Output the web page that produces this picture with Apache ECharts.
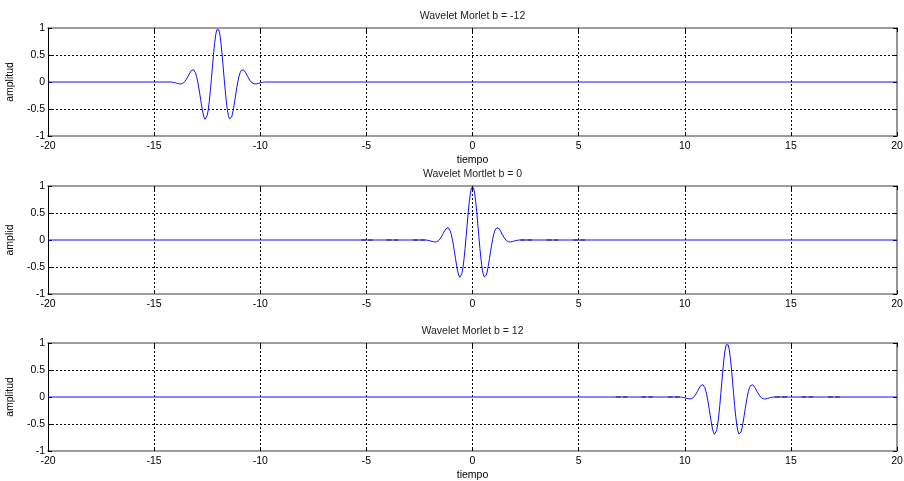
<!DOCTYPE html>
<html>
<head>
<meta charset="utf-8">
<script src="https://cdn.jsdelivr.net/npm/echarts@6.0.0/dist/echarts.min.js"></script>
<style>
  html, body { margin: 0; padding: 0; background: #fff; }
  #chart { width: 904px; height: 481px; }
</style>
</head>
<body>
<div id="chart"></div>
<script>
// Three panels: a Morlet pulse shifted to b = -12, 0 and 12 on the time axis.
const panelTitles = ['Wavelet Morlet b = -12', 'Wavelet Mortlet b = 0', 'Wavelet Morlet b = 12'];
const panelShifts = [-12, 0, 12];
const yAxisNames = ['amplitud', 'amplid', 'amplitud'];
const xAxisNames = ['tiempo', '', 'tiempo'];

const xTickValues = [-20, -15, -10, -5, 0, 5, 10, 15, 20];
const yTickValues = [-1, -0.5, 0, 0.5, 1];

// time relative to the pulse centre
const pulseOffsets = [
  -2.2, -2.15, -2.1, -2.05, -2.0, -1.95, -1.9, -1.85, -1.8, -1.75, -1.7, -1.65, -1.6, -1.55, -1.5,
  -1.45, -1.4, -1.35, -1.3, -1.25, -1.2, -1.15, -1.1, -1.05, -1.0, -0.95, -0.9, -0.85, -0.8, -0.75,
  -0.7, -0.65, -0.6, -0.55, -0.5, -0.45, -0.4, -0.35, -0.3, -0.25, -0.2, -0.15, -0.1, -0.05, 0,
  0.05, 0.1, 0.15, 0.2, 0.25, 0.3, 0.35, 0.4, 0.45, 0.5, 0.55, 0.6, 0.65, 0.7, 0.75,
  0.8, 0.85, 0.9, 0.95, 1.0, 1.05, 1.1, 1.15, 1.2, 1.25, 1.3, 1.35, 1.4, 1.45, 1.5,
  1.55, 1.6, 1.65, 1.7, 1.75, 1.8, 1.85, 1.9, 1.95, 2.0, 2.05, 2.1, 2.15, 2.2
];
const pulseAmplitude = [
  0.000, -0.002, -0.006, -0.010, -0.015, -0.021, -0.027, -0.032, -0.036, -0.037, -0.033, -0.025, -0.011, 0.009, 0.037,
  0.069, 0.106, 0.144, 0.180, 0.210, 0.227, 0.230, 0.211, 0.170, 0.104, 0.015, -0.094, -0.217, -0.345, -0.468,
  -0.574, -0.652, -0.691, -0.683, -0.624, -0.513, -0.355, -0.158, 0.065, 0.296, 0.519, 0.715, 0.869, 0.966, 1.000,
  0.966, 0.869, 0.715, 0.519, 0.296, 0.065, -0.158, -0.355, -0.513, -0.624, -0.683, -0.691, -0.652, -0.574, -0.468,
  -0.345, -0.217, -0.094, 0.015, 0.104, 0.170, 0.211, 0.230, 0.227, 0.210, 0.180, 0.144, 0.106, 0.069, 0.037,
  0.009, -0.011, -0.025, -0.033, -0.037, -0.036, -0.032, -0.027, -0.021, -0.015, -0.010, -0.006, -0.002, 0.000
];

// faint ripples far from the centre (panels b = 0 and b = 12 only): start, end, level
const rippleStarts = [-5.25, -4.05, -2.8, 2.25, 3.5, 4.75];
const rippleEnds = [-4.7, -3.5, -2.2, 2.85, 4.05, 5.3];
const rippleLevel = [0, 0, 0, 0, 0, 0];
const panelHasRipples = [false, true, true];

const chart = echarts.init(document.getElementById('chart'), null, { renderer: 'canvas' });

const FONT = 'Liberation Sans, Arial, sans-serif';
const FS = 10.5;
const gridTops = [28, 186, 343];
const GRID_LEFT = 48, GRID_W = 849, GRID_H = 108;

function pulseData(i) {
  const pts = [[xTickValues[0], 0]];
  pulseOffsets.forEach((t, k) => pts.push([t + panelShifts[i], pulseAmplitude[k]]));
  pts.push([xTickValues[xTickValues.length - 1], 0]);
  return pts;
}
function rippleData(i) {
  const pts = [];
  rippleStarts.forEach((t0, k) => {
    pts.push([t0 + panelShifts[i], rippleLevel[k]]);
    pts.push([rippleEnds[k] + panelShifts[i], rippleLevel[k]]);
    pts.push([rippleEnds[k] + panelShifts[i], '-']);   // break between ripples
  });
  return pts;
}

const xMin = xTickValues[0], xMax = xTickValues[xTickValues.length - 1];
const xStep = xTickValues[1] - xTickValues[0];
const yMin = yTickValues[0], yMax = yTickValues[yTickValues.length - 1];
const yStep = yTickValues[1] - yTickValues[0];

const grids = [], xAxes = [], yAxes = [], titles = [], series = [];
const frameGray = { color: '#7c7c7c', width: 1.6 };
const gridDots = { color: '#000', width: 1, type: [2, 2] };
// horizontal grid lines at -0.5 and 0.5; the zero level is left to the signal trace
const yGridDots = { color: ['#000', 'rgba(0,0,0,0)', '#000'], width: 1, type: [2, 2] };

for (let i = 0; i < 3; i++) {
  grids.push({
    left: GRID_LEFT, top: gridTops[i], width: GRID_W, height: GRID_H,
    containLabel: false, outerBoundsMode: 'none', show: false
  });
  titles.push({
    text: panelTitles[i],
    left: GRID_LEFT + GRID_W / 2, top: gridTops[i] - 17, textAlign: 'center', padding: 0,
    textStyle: { fontFamily: FONT, fontSize: FS, fontWeight: 'normal', color: '#222' }
  });
  series.push({
    type: 'line', xAxisIndex: i, yAxisIndex: i, data: pulseData(i),
    showSymbol: false, symbol: 'none', animation: false, z: 3,
    lineStyle: { color: '#1010ff', width: 1 }
  });
  if (panelHasRipples[i]) {
    series.push({
      type: 'line', xAxisIndex: i, yAxisIndex: i, data: rippleData(i),
      showSymbol: false, symbol: 'none', animation: false, z: 4, connectNulls: false,
      lineStyle: { color: '#181850', width: 1, type: [5, 2] }
    });
  }
}
// bottom and left axes: labels, names, dotted grid lines
for (let i = 0; i < 3; i++) {
  xAxes.push({
    type: 'value', gridIndex: i, position: 'bottom', min: xMin, max: xMax, interval: xStep,
    name: xAxisNames[i], nameLocation: 'middle', nameGap: 19,
    nameTextStyle: { fontFamily: FONT, fontSize: FS, color: '#000' },
    axisLine: { show: true, onZero: false, lineStyle: frameGray },
    axisTick: { show: true, inside: true, length: 4, lineStyle: { color: '#000' } },
    axisLabel: { fontFamily: FONT, fontSize: FS, color: '#000', margin: 5 },
    splitLine: { show: true, showMinLine: false, showMaxLine: false, lineStyle: gridDots }
  });
  yAxes.push({
    type: 'value', gridIndex: i, position: 'left', min: yMin, max: yMax, interval: yStep,
    name: yAxisNames[i], nameLocation: 'middle', nameGap: 25,
    nameTextStyle: { fontFamily: FONT, fontSize: FS, color: '#000' },
    axisLine: { show: true, onZero: false, lineStyle: { color: '#000', width: 1 } },
    axisTick: { show: true, inside: true, length: 4, lineStyle: { color: '#000' } },
    axisLabel: { fontFamily: FONT, fontSize: FS, color: '#000', margin: 3 },
    splitLine: { show: true, showMinLine: false, showMaxLine: false, lineStyle: yGridDots }
  });
}
// top and right axes close the frame and mirror the ticks
for (let i = 0; i < 3; i++) {
  xAxes.push({
    type: 'value', gridIndex: i, position: 'top', min: xMin, max: xMax, interval: xStep,
    axisLine: { show: true, onZero: false, lineStyle: frameGray },
    axisTick: { show: true, inside: true, length: 4, lineStyle: { color: '#000' } },
    axisLabel: { show: false }, splitLine: { show: false }
  });
  yAxes.push({
    type: 'value', gridIndex: i, position: 'right', min: yMin, max: yMax, interval: yStep,
    axisLine: { show: true, onZero: false, lineStyle: frameGray },
    axisTick: { show: true, inside: true, length: 4, lineStyle: { color: '#000' } },
    axisLabel: { show: false }, splitLine: { show: false }
  });
}

chart.setOption({
  animation: false,
  backgroundColor: '#fff',
  textStyle: { fontFamily: FONT },
  title: titles,
  grid: grids,
  xAxis: xAxes,
  yAxis: yAxes,
  series: series
});
</script>
</body>
</html>
